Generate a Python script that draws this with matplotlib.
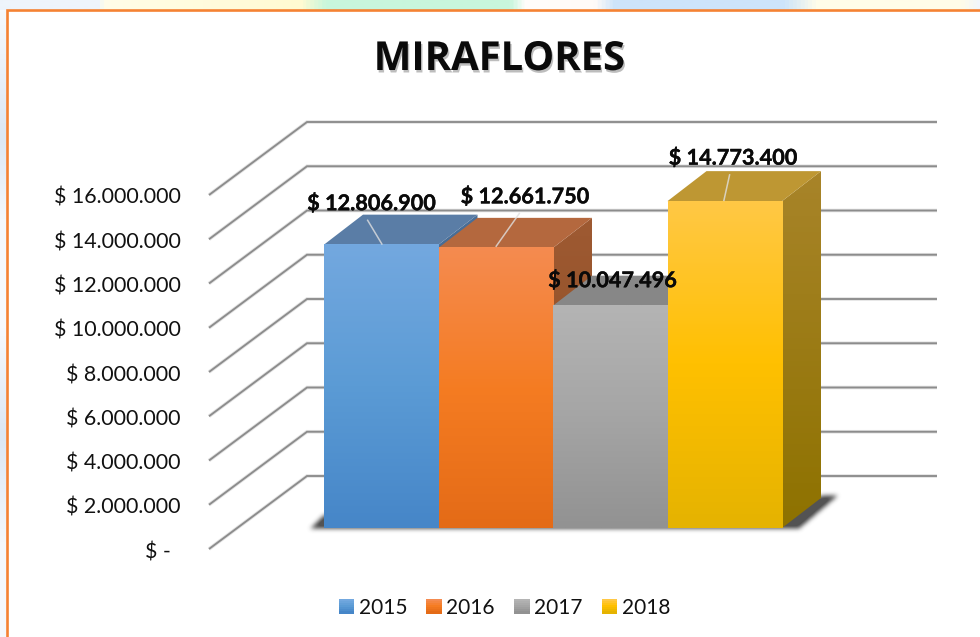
import numpy as np
import matplotlib
matplotlib.use("Agg")
import matplotlib.pyplot as plt
import matplotlib.patheffects as pe
from matplotlib.colors import LinearSegmentedColormap as LSC
from matplotlib.patches import Polygon, Rectangle
from matplotlib.path import Path
from matplotlib.legend_handler import HandlerBase

plt.rcParams['font.family'] = ['Lato', 'DejaVu Sans']

title = "MIRAFLORES"
years = ["2015", "2016", "2017", "2018"]
values = [12806900, 12661750, 10047496, 14773400]
value_labels = ["$ 12.806.900", "$ 12.661.750", "$ 10.047.496", "$ 14.773.400"]
ticks = [0, 2000000, 4000000, 6000000, 8000000, 10000000, 12000000, 14000000, 16000000]
tick_labels = ["$ -", "$ 2.000.000", "$ 4.000.000", "$ 6.000.000", "$ 8.000.000",
               "$ 10.000.000", "$ 12.000.000", "$ 14.000.000", "$ 16.000.000"]
front_colors = [["#73A8DF", "#5B9BD5", "#4686C8"],
                ["#F48B50", "#F57C22", "#E46B17"],
                ["#B4B4B4", "#A5A5A5", "#929292"],
                ["#FFC845", "#FFC000", "#E5B300"]]
top_colors = ["#5A7DA6", "#B4683E", "#878787", "#BE9733"]
side_colors = [["#4A6F98", "#3A5F88"], ["#9E5A32", "#8A4A20"],
               ["#777777", "#6A6A6A"], ["#A88429", "#8E7200"]]
label_offsets = [(-10, 41), (29, 51), (2, 25), (8, 43)]
leader_offsets = [((1, 0), (-14, 25)), ((0, 1), (24, 35)), None, ((-1, 0), (5, 27))]

W, H = 980, 637
fig = plt.figure(figsize=(W / 100, H / 100), dpi=100, facecolor="white")

# backdrop in pixel coordinates
bg = fig.add_axes([0, 0, 1, 1])
bg.set_xlim(0, W); bg.set_ylim(H, 0); bg.axis("off")
strip_stops = [(0, "#EEF4FB"), (97 / W, "#EEF4FB"), (102 / W, "#FFFDE8"), (300 / W, "#FFFBD2"),
               (325 / W, "#C8F6DC"), (510 / W, "#C8F6DC"), (525 / W, "#FFFDFB"), (595 / W, "#FFFBF8"),
               (615 / W, "#CDE4FA"), (785 / W, "#CDE4FA"), (818 / W, "#FFFDEA"), (962 / W, "#FFFDE8"),
               (1, "#F2F6FB")]
cm = LSC.from_list("s", strip_stops)
bg.imshow(np.linspace(0, 1, 980)[None, :], cmap=cm, extent=(0, W, 10, 0), aspect="auto", vmin=0, vmax=1)
left_stops = [(0, "#F6F9FD"), (.2, "#DCE7F4"), (.33, "#F4F8FC"), (.5, "#F8FAFD"), (.68, "#DCE7F4"),
              (.85, "#F4F8FC"), (1, "#F6F9FD")]
cm2 = LSC.from_list("l", left_stops)
bg.imshow(np.linspace(0, 1, 637)[:, None], cmap=cm2, extent=(0, 6, H, 10), aspect="auto", vmin=0, vmax=1)
bg.set_xlim(0, W); bg.set_ylim(H, 0)
bg.plot([7, 7, W], [H, 10, 10], color="#F58233", lw=1.9, solid_joinstyle="miter", zorder=3)
bg.add_patch(Rectangle((8, 11), W - 8, H - 11, fc="white", ec="none", zorder=2))

# data axes: x = category units, y = value, in the front plane of the bars
BAR_W = 114.5
X0 = 324.0
Y0 = 528.0
PXV = 22.125e-6  # px per unit value
ax = fig.add_axes([0, 0, 1, 1])
ax.patch.set_alpha(0)
ax.axis("off")
xlim = (-0.5 - X0 / BAR_W, -0.5 + (W - X0) / BAR_W)
ylim = (-(H - Y0) / PXV, Y0 / PXV)


def dx(px):
    return px / BAR_W


def dy(px):
    return px / PXV


DX, DY = dx(39), dy(30)
n = len(values)

# walls + gridlines
wall_front_x, wall_back_x = -0.5 + dx(209 - X0), -0.5 + dx(307 - X0)
grid_end = -0.5 + dx(937 - X0)
for v in ticks:
    yf, yb = v - dy(21), v + dy(52)
    ax.plot([wall_front_x, wall_back_x, grid_end], [yf, yb, yb], color="#E2E2E2", lw=2.6, zorder=1,
            solid_joinstyle="miter", solid_capstyle="butt")
    ax.plot([wall_front_x, wall_back_x, grid_end], [yf, yb, yb], color="#8C8C8C", lw=1.35, zorder=1.1,
            solid_joinstyle="miter", solid_capstyle="butt")

# soft blurred shadow under the bars
L, R = -0.5, n - 0.5
sh = Path([(L - dx(16), -dy(2)), (L, dy(13)), (R + dx(39), DY + dy(2)), (R + dx(56), DY + dy(2)),
           (R + dx(16), -dy(2)), (L - dx(16), -dy(2))])
px_x = np.arange(-30, 1 + (R - L) * BAR_W + 80)
px_y = np.arange(-14, 50)
gx, gy = np.meshgrid(L + dx(px_x), dy(px_y))
mask = sh.contains_points(np.c_[gx.ravel(), gy.ravel()]).reshape(gx.shape).astype(float)
kern = np.ones(5) / 5
for _ in range(3):
    mask = np.apply_along_axis(lambda r: np.convolve(r, kern, "same"), 0, mask)
    mask = np.apply_along_axis(lambda r: np.convolve(r, kern, "same"), 1, mask)
rgba = np.zeros(mask.shape + (4,))
rgba[..., :3] = 0.25
rgba[..., 3] = 0.9 * np.clip(mask * 1.1, 0, 1) ** 1.3
ax.imshow(rgba, origin="lower", aspect="auto", zorder=1.5, interpolation="bilinear",
          extent=(L + dx(px_x[0]), L + dx(px_x[-1]), dy(px_y[0]), dy(px_y[-1])))

# bars
for i, v in enumerate(values):
    z = 2 + i
    l, r = i - .5, i + .5
    side = Polygon([(r, 0), (r + DX, DY), (r + DX, v + DY), (r, v)], closed=True, fc="none", ec="none",
                   transform=ax.transData, zorder=z)
    ax.add_patch(side)
    im = ax.imshow(np.linspace(0, 1, 64)[:, None], cmap=LSC.from_list("a", side_colors[i]),
                   extent=(r, r + DX, 0, v + DY), origin="upper", aspect="auto", zorder=z)
    im.set_clip_path(side)
    ax.add_patch(Polygon([(l, v), (l + DX, v + DY), (r + DX, v + DY), (r, v)], closed=True,
                         fc=top_colors[i], ec="none", zorder=z + .1))
    ax.imshow(np.linspace(0, 1, 128)[:, None], cmap=LSC.from_list("f", front_colors[i]),
              extent=(l, r, 0, v), origin="upper", aspect="auto", zorder=z + .2)

ax.set_xlim(*xlim)
ax.set_ylim(*ylim)

# leader lines
for i, (v, lo) in enumerate(zip(values, leader_offsets)):
    if lo is None:
        continue
    (a, b), (c, d) = lo
    ax.plot([i + dx(a), i + dx(c)], [v + dy(b), v + dy(d)], color=(.88, .88, .88, .8), lw=1.1,
            zorder=8, solid_capstyle="butt")

# value labels
for i, (v, s, off) in enumerate(zip(values, value_labels, label_offsets)):
    ax.text(i + dx(off[0]), v + dy(off[1]), s, ha="center", va="center", fontsize=15.6,
            fontweight="bold", color="#0A0A0A", zorder=9,
            path_effects=[pe.withStroke(linewidth=0.25, foreground="#0A0A0A")])

# tick labels
lab_x = -0.5 + dx(181 - X0)
for v, s in zip(ticks, tick_labels):
    if v == 0:
        ax.text(-0.5 + dx(171 - X0), v - dy(24.5), s, ha="right", va="center", fontsize=15.4, color="#111111", zorder=9)
    else:
        ax.text(lab_x, v - dy(24), s, ha="right", va="center", fontsize=15.4, color="#111111", zorder=9)

# title
fig.text(499.5 / W, 1 - 59.5 / H, title, ha="center", va="center", fontsize=28.8, fontweight="bold",
         family=["Open Sans", "DejaVu Sans"], color="#0A0A0A",
         path_effects=[pe.SimplePatchShadow(offset=(1.0, -1.8), shadow_rgbFace="#444444", alpha=.35),
                       pe.Normal()])


class GradHandler(HandlerBase):
    def create_artists(self, legend, orig, xd, yd, width, height, fontsize, trans):
        cols = orig.get_gid().split(",")
        cmap = LSC.from_list("h", cols)
        k = 7
        out = []
        for j in range(k):
            out.append(Rectangle((xd * -1, -yd + height * (1 - (j + 1) / k)), width, height / k + .2,
                                 fc=cmap(j / (k - 1)), ec="none", transform=trans))
        return out


handles = []
for i, y in enumerate(years):
    p = Rectangle((0, 0), 1, 1, gid=",".join(front_colors[i]), label=y)
    handles.append(p)
leg = ax.legend(handles=handles, labels=years, handler_map={Rectangle: GradHandler()}, ncol=4, frameon=False,
                loc="center", bbox_to_anchor=(504.5 / W, 1 - 607.5 / H), bbox_transform=fig.transFigure,
                fontsize=15.0, handlelength=0.74, handleheight=0.7, handletextpad=0.22, columnspacing=0.92,
                labelcolor="#111111", borderpad=0, borderaxespad=0)
leg.set_zorder(10)

fig.savefig("out.png", dpi=100)
